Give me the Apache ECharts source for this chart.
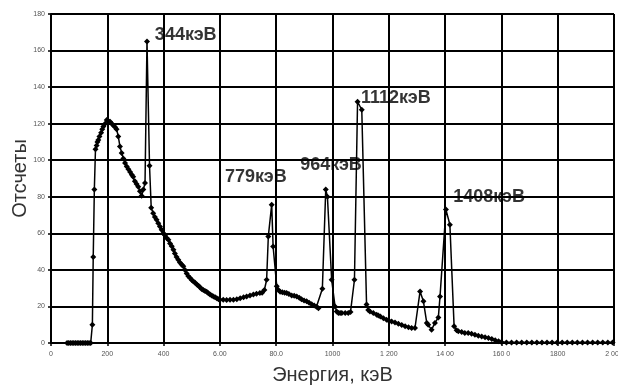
<!DOCTYPE html>
<html>
<head>
<meta charset="utf-8">
<script src="https://cdn.jsdelivr.net/npm/echarts@6/dist/echarts.min.js"></script>
<style>
  html, body { margin: 0; padding: 0; background: #fff; }
  #chart { width: 618px; height: 392px; }
</style>
</head>
<body>
<div id="chart"></div>
<script>
// энергия, кэВ
var energy = [
  57, 63, 69, 75, 81, 87, 93, 99, 105, 111, 117, 123, 129, 135, 141,
  147, 150, 154, 158, 162, 165, 168, 172, 178, 182, 186, 192, 198,
  204, 210, 216, 222, 228, 233, 239, 245, 251, 257, 263, 269, 275, 281, 287, 292, 298,
  304, 310, 316, 322, 328, 334, 341, 350, 356,
  363, 369, 375, 381, 387, 393, 399, 405, 411, 417, 423, 429, 435, 440, 446, 452, 458,
  464, 470, 476, 482, 488, 494, 500, 506, 512, 518, 524, 529, 535, 541, 547, 553, 559,
  565, 571, 577, 583, 589, 595, 600, 612, 624, 636, 648, 660, 672, 684, 695, 707, 719,
  730, 742, 750, 758, 766, 772, 784, 789, 802, 808, 814, 822, 830, 837, 845, 855, 864,
  873, 882, 890, 899, 908, 917, 926, 935, 943, 950, 964, 976, 982, 997, 1009, 1015,
  1021, 1027, 1033, 1045, 1056, 1064, 1078, 1089, 1104, 1121, 1127, 1133, 1145, 1157,
  1163, 1170, 1181, 1192, 1200, 1210, 1222, 1234, 1246, 1258, 1270, 1281, 1293, 1311,
  1323, 1335, 1340, 1352, 1364, 1376, 1382, 1403, 1417, 1432, 1441, 1447, 1459, 1470,
  1482, 1494, 1506, 1518, 1530, 1542, 1554, 1566, 1578, 1590, 1600, 1618, 1636, 1654,
  1672, 1690, 1708, 1726, 1744, 1762, 1780, 1798, 1816, 1834, 1852, 1870, 1888, 1906,
  1924, 1942, 1960, 1978, 1995
];
// отсчеты
var counts = [
  0, 0, 0, 0, 0, 0, 0, 0, 0, 0, 0, 0, 0, 0, 0,
  10, 47, 84, 106, 108, 110, 111, 113, 115, 117, 118.5, 120, 122,
  121.5, 121, 120, 119, 118, 117, 113, 107.5, 104, 101, 98.5, 96.5, 95, 93.5, 92, 91, 88.5,
  87, 85.5, 83, 80.5, 84, 87.5, 165, 97, 74,
  71, 69, 67.5, 65.5, 63.8, 62, 60, 59, 57.5, 56.5, 54.5, 53, 51, 49, 47, 45.5, 44,
  43, 42, 40, 38, 36.5, 35.5, 34.5, 33.7, 33, 32, 31.3, 30.5, 29.5, 29, 28.5, 28, 27.2,
  26.5, 26, 25.5, 25, 24.5, 24, 23.7, 23.7, 23.5, 23.7, 23.7, 24, 24.5, 25, 25.5, 26, 26.5,
  27, 27.3, 27.5, 29, 34.6, 58.3, 75.7, 52.8, 31, 29, 28, 27.8, 27.5, 27.3, 26.8, 26, 25.8,
  25.5, 24.8, 24, 23.3, 22.8, 22, 21.2, 20.5, 19.8, 19, 29.7, 84, 80, 34.6, 20, 17.3,
  16.4, 16.4, 16.4, 16.4, 16.4, 17, 34.6, 132, 127.6, 21, 18, 17.3, 16.4, 15.5,
  15, 14.5, 13.5, 12.7, 12.2, 11.8, 11.2, 10.5, 9.8, 9.2, 8.6, 8.2, 8.2, 28.2,
  22.8, 10.9, 10, 7.3, 11, 14, 25.5, 73, 64.7, 9.1, 7, 6.4, 6, 5.5,
  5.5, 5, 4.5, 4, 3.6, 3.2, 2.7, 2.2, 1.5, 1, 0.5, 0.3, 0.3, 0.3,
  0.3, 0.3, 0.3, 0.3, 0.3, 0.3, 0.3, 0.3, 0.3, 0.3, 0.3, 0.3, 0.3, 0.3,
  0.3, 0.3, 0.3, 0.3, 0.3
];
// подписи шкалы X (как на оригинале)
var xTickLabels = ['0', '200', '400', '6.00', '80.0', '1000', '1 200', '14 00', '160 0', '1800', '2 000'];
// подписи пиков
var peakNames = ['344кэВ', '779кэВ', '964кэВ', '1112кэВ', '1408кэВ'];
var peakAnchorX = [369, 618, 885, 1101, 1429];
var peakAnchorY = [168.7, 91, 97.5, 134, 80];

var chart = echarts.init(document.getElementById('chart'));

var spectrum = energy.map(function (e, i) { return [e, counts[i]]; });
var peaks = peakNames.map(function (n, i) { return { value: [peakAnchorX[i], peakAnchorY[i]], name: n }; });

chart.setOption({
  animation: false,
  grid: { left: 51, right: 4, top: 14, bottom: 49, containLabel: false, outerBoundsMode: 'none' },
  xAxis: {
    type: 'value',
    min: 0,
    max: 2000,
    interval: 200,
    name: 'Энергия, кэВ',
    nameLocation: 'middle',
    nameGap: 22,
    nameMoveOverlap: false,
    nameTextStyle: { fontFamily: 'Liberation Sans', fontSize: 20, color: '#333' },
    axisLine: { lineStyle: { color: '#000', width: 2 } },
    axisTick: { show: true, length: 3, lineStyle: { color: '#000', width: 1.5 } },
    axisLabel: {
      fontFamily: 'Liberation Sans', fontSize: 7, color: '#555', margin: 8,
      formatter: function (v) { return xTickLabels[Math.round(v / 200)]; }
    },
    splitLine: { show: true, lineStyle: { color: '#000', width: 2 } }
  },
  yAxis: {
    type: 'value',
    min: 0,
    max: 180,
    interval: 20,
    name: 'Отсчеты',
    nameLocation: 'middle',
    nameGap: 21,
    nameRotate: 90,
    nameMoveOverlap: false,
    nameTextStyle: { fontFamily: 'Liberation Sans', fontSize: 20, color: '#333' },
    axisLine: { show: true, lineStyle: { color: '#000', width: 2 } },
    axisTick: { show: true, length: 3, lineStyle: { color: '#000', width: 1.5 } },
    axisLabel: { fontFamily: 'Liberation Sans', fontSize: 7, color: '#555', margin: 6 },
    splitLine: { show: true, lineStyle: { color: '#000', width: 2 } }
  },
  series: [
    {
      type: 'line',
      data: spectrum,
      symbol: 'diamond',
      symbolSize: 6,
      showAllSymbol: true,
      lineStyle: { color: '#000', width: 1.5 },
      itemStyle: { color: '#000' }
    },
    {
      type: 'scatter',
      data: peaks,
      symbolSize: 0,
      silent: true,
      label: {
        show: true,
        position: 'right',
        distance: 0,
        formatter: '{b}',
        fontFamily: 'Liberation Sans',
        fontWeight: 'bold',
        fontSize: 18,
        color: '#000'
      }
    }
  ]
});
</script>
</body>
</html>
